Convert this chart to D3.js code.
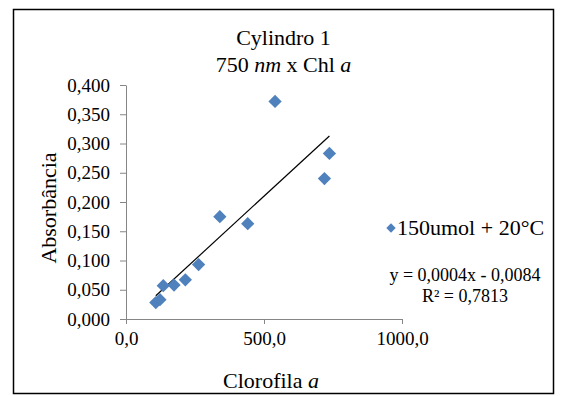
<!DOCTYPE html>
<html>
<head>
<meta charset="utf-8">
<script src="https://cdn.jsdelivr.net/npm/d3@7"></script>
<style>
  body { margin: 0; background: #fff; }
  text { font-family: "Liberation Serif", "Times New Roman", serif; fill: #000; }
</style>
</head>
<body>
<div id="chart"></div>
<script>
// Chlorophyll a (x) vs absorbance at 750 nm (y)
const clorofila = [108, 123, 135, 174, 215, 263, 340, 441, 540, 719, 737];
const absorbancia = [0.028, 0.033, 0.057, 0.058, 0.067, 0.093, 0.175, 0.163, 0.372, 0.240, 0.283];
const xTicks = [0, 500, 1000];
const yTicks = [0, 0.05, 0.1, 0.15, 0.2, 0.25, 0.3, 0.35, 0.4];
const seriesName = '150umol + 20°C';
const equationText = 'y = 0,0004x - 0,0084';
const r2Text = 'R² = 0,7813';

const width = 562, height = 396;
const plot = { left: 126, right: 402, top: 85, bottom: 319 };

const svg = d3.select('#chart')
  .append('svg')
  .attr('width', width)
  .attr('height', height);

// Chart border
svg.append('rect')
  .attr('x', 13.5)
  .attr('y', 9.5)
  .attr('width', 540)
  .attr('height', 384)
  .attr('fill', '#fff')
  .attr('stroke', '#000')
  .attr('stroke-width', 1.5);

const xScale = d3.scaleLinear().domain([0, 1000]).range([plot.left, plot.right]);
const yScale = d3.scaleLinear().domain([0, 0.4]).range([plot.bottom, plot.top]);

const commaFmt = (digits) => (d) => d3.format(`.${digits}f`)(d).replace('.', ',');

// Y-axis
const yAxis = svg.append('g')
  .attr('transform', `translate(${plot.left}, 0)`)
  .call(d3.axisLeft(yScale).tickValues(yTicks).tickFormat(commaFmt(3)).tickSize(6).tickSizeOuter(0).tickPadding(10));

// X-axis
const xAxis = svg.append('g')
  .attr('transform', `translate(0, ${plot.bottom})`)
  .call(d3.axisBottom(xScale).tickValues(xTicks).tickFormat(commaFmt(1)).tickSize(5).tickSizeOuter(0).tickPadding(8));

[xAxis, yAxis].forEach(g => {
  g.selectAll('path, line').attr('stroke', '#868686');
  g.selectAll('text')
    .attr('font-size', '19px')
    .attr('font-family', '"Liberation Serif", serif')
    .attr('fill', '#000');
});

// Titles
const title = svg.append('text')
  .attr('x', 283.5)
  .attr('y', 45)
  .attr('text-anchor', 'middle')
  .attr('font-size', '22px');
title.append('tspan').text('Cylindro 1');

const subtitle = svg.append('text')
  .attr('x', 283.5)
  .attr('y', 72)
  .attr('text-anchor', 'middle')
  .attr('font-size', '22px');
subtitle.append('tspan').text('750 ');
subtitle.append('tspan').attr('font-style', 'italic').text('nm');
subtitle.append('tspan').text(' x Chl ');
subtitle.append('tspan').attr('font-style', 'italic').text('a');

// Y-axis label
svg.append('text')
  .attr('transform', 'rotate(-90)')
  .attr('x', -208)
  .attr('y', 56)
  .attr('text-anchor', 'middle')
  .attr('font-size', '22px')
  .text('Absorbância');

// X-axis label
const xLabel = svg.append('text')
  .attr('x', 271)
  .attr('y', 388)
  .attr('text-anchor', 'middle')
  .attr('font-size', '22px');
xLabel.append('tspan').text('Clorofila ');
xLabel.append('tspan').attr('font-style', 'italic').text('a');

// Linear trendline (least squares on the points)
const points = clorofila.map((x, i) => ({ x, y: absorbancia[i] }));
const mx = d3.mean(points, d => d.x), my = d3.mean(points, d => d.y);
const slope = d3.sum(points, d => (d.x - mx) * (d.y - my)) / d3.sum(points, d => (d.x - mx) ** 2);
const intercept = my - slope * mx;
const xExtent = d3.extent(clorofila);

svg.append('path')
  .datum(xExtent.map(x => ({ x, y: slope * x + intercept })))
  .attr('fill', 'none')
  .attr('stroke', '#000')
  .attr('stroke-width', 1.2)
  .attr('d', d3.line().x(d => xScale(d.x)).y(d => yScale(d.y)));

// Diamonds
const diamond = d3.symbol().type(d3.symbolSquare).size(88);
svg.append('g')
  .selectAll('path')
  .data(points)
  .join('path')
  .attr('d', diamond)
  .attr('transform', d => `translate(${xScale(d.x)}, ${yScale(d.y)}) rotate(45)`)
  .attr('fill', '#4F81BD');

// Legend
svg.append('path')
  .attr('d', d3.symbol().type(d3.symbolSquare).size(44))
  .attr('transform', 'translate(391, 228) rotate(45)')
  .attr('fill', '#4F81BD');

svg.append('text')
  .attr('x', 397)
  .attr('y', 235)
  .attr('font-size', '22px')
  .text(seriesName);

// Equation
svg.append('text')
  .attr('x', 465)
  .attr('y', 281)
  .attr('text-anchor', 'middle')
  .attr('font-size', '18px')
  .text(equationText);

svg.append('text')
  .attr('x', 465)
  .attr('y', 302)
  .attr('text-anchor', 'middle')
  .attr('font-size', '18px')
  .text(r2Text);
</script>
</body>
</html>
